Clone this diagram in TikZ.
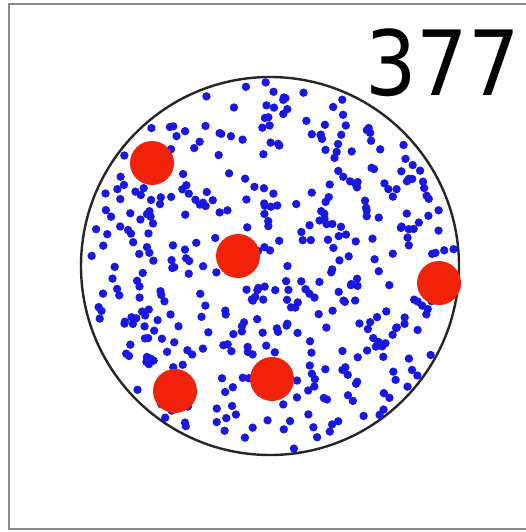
\documentclass[tikz,border=0pt]{standalone}
\usepackage{fontspec}
\newfontfamily\numfont{DejaVu Sans}
\usetikzlibrary{calc}
\definecolor{dotblue}{RGB}{24,24,226}
\definecolor{dotred}{RGB}{242,34,8}
\definecolor{ringc}{RGB}{38,38,38}
\definecolor{framec}{RGB}{138,138,138}
\tikzset{smalldot/.style={fill=dotblue},bigdot/.style={fill=dotred},ring/.style={draw=ringc,line width=1.2mm},frameline/.style={draw=framec,line width=1.4mm}}
\begin{document}
\begin{tikzpicture}[x=0.5mm,y=-0.5mm]
\useasboundingbox (0,0) rectangle (525,532);
\fill[white] (0,0) rectangle (525,532);
\draw[frameline] (530,4)--(9,4)--(9,529)--(530,529);
\coordinate (c) at (270,266);
\draw[ring] (c) circle (189);
% scattered small dots
\pgfmathsetseed{377}
\foreach \i in {1,...,420}{
  \pgfmathsetmacro\rr{185*sqrt(rnd)}
  \pgfmathsetmacro\aa{360*rnd}
  \fill[smalldot] ($(c)+(\aa:\rr)$) circle (4.2);
}
% large dots
\foreach \p in {(152,163),(238,256),(439,283),(175,391),(272,379)}
  \fill[bigdot] \p circle (22);
\node[anchor=base east,inner sep=0pt,font=\numfont\fontsize{128}{128}\selectfont,xscale=0.9] (num) at (520,95) {377};
\end{tikzpicture}
\end{document}
